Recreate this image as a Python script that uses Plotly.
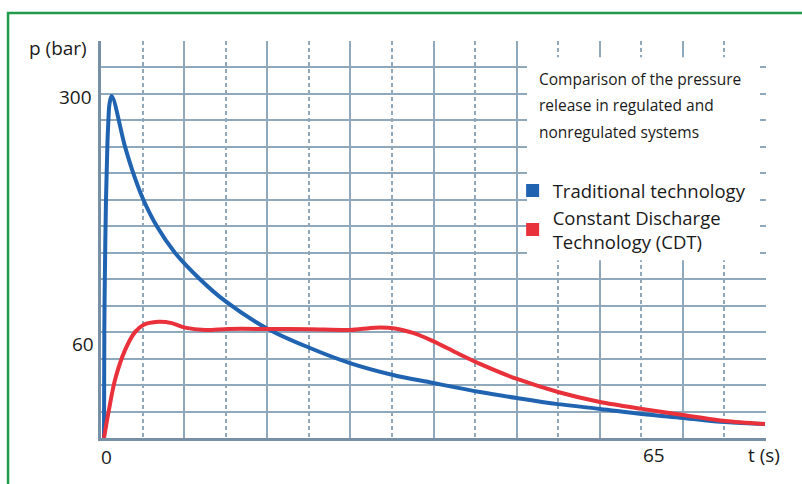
import plotly.graph_objects as go

# values, in grid units (1 x-unit = one solid grid cell, 1 y-unit = one row)
t_traditional = [0.036, 0.040, 0.046, 0.060, 0.076, 0.088, 0.102, 0.129, 0.289,
                 0.389, 0.502, 0.670, 0.890, 1.191, 1.492, 1.997, 2.514, 2.995, 3.513, 3.994,
                 4.559, 5.005, 5.498, 6.003, 6.508, 7.002, 7.507, 7.988]
p_traditional = [0.0, 4.08, 5.97, 8.99, 10.99, 11.94, 12.62, 12.92, 11.01,
                 10.00, 9.06, 8.01, 7.00, 6.00, 5.18, 4.14, 3.40, 2.83, 2.38, 2.08,
                 1.74, 1.51, 1.28, 1.10, 0.91, 0.76, 0.60, 0.53]

t_cdt = [0.036, 0.088, 0.168, 0.289, 0.409, 0.509, 0.689, 0.851, 1.010, 1.251, 1.528, 2.009,
         2.514, 2.995, 3.297, 3.537, 3.753, 3.994, 4.283, 4.559, 5.005, 5.498, 6.003, 6.508,
         7.002, 7.507, 7.988]
p_cdt = [0.0, 0.94, 2.19, 3.32, 4.00, 4.27, 4.39, 4.34, 4.17, 4.08, 4.12, 4.12,
         4.11, 4.08, 4.17, 4.14, 3.97, 3.66, 3.21, 2.80, 2.23, 1.74, 1.36, 1.10,
         0.87, 0.64, 0.53]

x_major = [1, 2, 3, 4, 5, 6, 7]
x_minor = [0.5, 1.5, 2.5, 3.5, 4.5, 5.5, 6.5, 7.5]
y_rows = list(range(1, 16))

series_names = ["Traditional technology", "Constant Discharge<br>Technology (CDT)"]
series_colors = ["#1f63b1", "#e8313a"]

FONT = "Open Sans"
GRID = "#8fa8bc"

fig = go.Figure()

fig.add_trace(go.Scatter(x=t_traditional, y=p_traditional, mode="lines",
                         line=dict(color=series_colors[0], width=4, shape="spline", smoothing=1),
                         showlegend=False))
fig.add_trace(go.Scatter(x=t_cdt, y=p_cdt, mode="lines",
                         line=dict(color=series_colors[1], width=4, shape="spline", smoothing=0.8),
                         showlegend=False))

# legend entries drawn as coloured squares
for name, color in zip(series_names, series_colors):
    fig.add_trace(go.Scatter(x=[None], y=[None], mode="markers", name=name,
                             marker=dict(symbol="square", size=13, color=color)))

# white panel covering the grid behind the description and legend
fig.add_shape(type="rect", xref="x", yref="y", x0=5.125, x1=7.928, y0=6.72, y1=14.39,
              fillcolor="white", line_width=0, layer="above")

# green frame (top and left edges only)
fig.add_shape(type="path", xref="paper", yref="paper",
              path="M -0.1398,-0.3 L -0.1398,1.0705 L 1.2,1.0705",
              line=dict(color="#1f9b4b", width=2.5))

desc = ["Comparison of the pressure", "release in regulated and", "nonregulated systems"]
for txt, yy in zip(desc, [13.56, 12.58, 11.56]):
    fig.add_annotation(text=txt, x=5.245, y=yy, xref="x", yref="y", xanchor="left",
                       yanchor="middle", showarrow=False, font=dict(size=15.5, color="#1a1a1a"))

labels = [
    dict(text="p (bar)", x=-0.0647, y=0.982, xref="paper", yref="paper", xanchor="center"),
    dict(text="300", x=-0.0105, y=12.88, xref="paper", yref="y", xanchor="right"),
    dict(text="60", x=-0.0075, y=3.55, xref="paper", yref="y", xanchor="right"),
    dict(text="0", x=0.072, y=-0.048, xref="x", yref="paper", xanchor="center"),
    dict(text="65", x=6.653, y=-0.043, xref="x", yref="paper", xanchor="center"),
    dict(text="t (s)", x=7.97, y=-0.043, xref="x", yref="paper", xanchor="center"),
]
for lab in labels:
    fig.add_annotation(showarrow=False, yanchor="middle", font=dict(size=19, color="#1a1a1a"), **lab)

fig.update_xaxes(
    range=[0, 8], showticklabels=False, ticks="", zeroline=False,
    showline=True, linecolor="#7890a6", linewidth=2.5,
    tickmode="array", tickvals=x_major, showgrid=True, gridcolor=GRID, gridwidth=1.5,
    minor=dict(tickmode="array", tickvals=x_minor, showgrid=True, gridcolor=GRID,
               gridwidth=1.5, griddash="4px,3px", ticks=""),
)
fig.update_yaxes(
    range=[0, 15], showticklabels=False, ticks="", zeroline=False,
    showline=True, linecolor="#7890a6", linewidth=2.5,
    tickmode="array", tickvals=y_rows, showgrid=True, gridcolor=GRID, gridwidth=1.5,
)

fig.update_layout(
    width=802, height=484,
    margin=dict(l=101, r=36, t=41, b=46),
    paper_bgcolor="white", plot_bgcolor="white",
    font=dict(family=FONT, color="#1a1a1a"),
    legend=dict(x=0.619, y=0.67, xanchor="left", yanchor="top", bgcolor="rgba(0,0,0,0)",
                font=dict(size=18.5, color="#1a1a1a"), tracegroupgap=0, itemwidth=30),
)

fig.write_html("out.html", config={"displayModeBar": False},
               post_script="document.body.style.margin='0';")
